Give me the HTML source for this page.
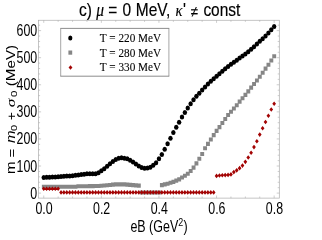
<!DOCTYPE html>
<html><head><meta charset="utf-8"><title>plot</title>
<style>html,body{margin:0;padding:0;background:#fff;overflow:hidden}svg{display:block;will-change:transform;opacity:0.999}text{font-family:"Liberation Sans",sans-serif;fill:#000}.se{font-family:"Liberation Serif",serif}</style></head>
<body>
<svg width="322" height="240" viewBox="0 0 322 240">
<rect x="0" y="0" width="322" height="240" fill="#fff"/>
<rect x="38.5" y="20.25" width="240.80" height="177.85" fill="none" stroke="#acacac" stroke-width="0.7"/>
<path d="M43.75 198.1v-2.6M43.75 20.25v2.6M58.15 198.1v-1.6M58.15 20.25v1.6M72.55 198.1v-1.6M72.55 20.25v1.6M86.95 198.1v-1.6M86.95 20.25v1.6M101.35 198.1v-2.6M101.35 20.25v2.6M115.75 198.1v-1.6M115.75 20.25v1.6M130.15 198.1v-1.6M130.15 20.25v1.6M144.55 198.1v-1.6M144.55 20.25v1.6M158.95 198.1v-2.6M158.95 20.25v2.6M173.35 198.1v-1.6M173.35 20.25v1.6M187.75 198.1v-1.6M187.75 20.25v1.6M202.15 198.1v-1.6M202.15 20.25v1.6M216.55 198.1v-2.6M216.55 20.25v2.6M230.95 198.1v-1.6M230.95 20.25v1.6M245.35 198.1v-1.6M245.35 20.25v1.6M259.75 198.1v-1.6M259.75 20.25v1.6M274.15 198.1v-2.6M274.15 20.25v2.6M38.5 193.10h2.6M279.3 193.10h-2.6M38.5 187.68h1.6M279.3 187.68h-1.6M38.5 182.27h1.6M279.3 182.27h-1.6M38.5 176.85h1.6M279.3 176.85h-1.6M38.5 171.44h1.6M279.3 171.44h-1.6M38.5 166.02h2.6M279.3 166.02h-2.6M38.5 160.60h1.6M279.3 160.60h-1.6M38.5 155.19h1.6M279.3 155.19h-1.6M38.5 149.77h1.6M279.3 149.77h-1.6M38.5 144.36h1.6M279.3 144.36h-1.6M38.5 138.94h2.6M279.3 138.94h-2.6M38.5 133.52h1.6M279.3 133.52h-1.6M38.5 128.11h1.6M279.3 128.11h-1.6M38.5 122.69h1.6M279.3 122.69h-1.6M38.5 117.28h1.6M279.3 117.28h-1.6M38.5 111.86h2.6M279.3 111.86h-2.6M38.5 106.44h1.6M279.3 106.44h-1.6M38.5 101.03h1.6M279.3 101.03h-1.6M38.5 95.61h1.6M279.3 95.61h-1.6M38.5 90.20h1.6M279.3 90.20h-1.6M38.5 84.78h2.6M279.3 84.78h-2.6M38.5 79.36h1.6M279.3 79.36h-1.6M38.5 73.95h1.6M279.3 73.95h-1.6M38.5 68.53h1.6M279.3 68.53h-1.6M38.5 63.12h1.6M279.3 63.12h-1.6M38.5 57.70h2.6M279.3 57.70h-2.6M38.5 52.28h1.6M279.3 52.28h-1.6M38.5 46.87h1.6M279.3 46.87h-1.6M38.5 41.45h1.6M279.3 41.45h-1.6M38.5 36.04h1.6M279.3 36.04h-1.6M38.5 30.62h2.6M279.3 30.62h-2.6M38.5 25.20h1.6M279.3 25.20h-1.6" stroke="#acacac" stroke-width="0.6" fill="none"/>
<path d="M41.85 184.65h3.9v4.1h-3.9zM44.73 184.65h3.9v4.1h-3.9zM47.61 184.65h3.9v4.1h-3.9zM50.49 184.65h3.9v4.1h-3.9zM53.37 184.65h3.9v4.1h-3.9zM56.25 184.65h3.9v4.1h-3.9zM59.13 184.65h3.9v4.1h-3.9zM62.01 184.65h3.9v4.1h-3.9zM64.89 184.65h3.9v4.1h-3.9zM67.77 184.65h3.9v4.1h-3.9zM70.65 184.65h3.9v4.1h-3.9zM73.53 184.65h3.9v4.1h-3.9zM76.41 184.24h3.9v4.1h-3.9zM79.29 184.21h3.9v4.1h-3.9zM82.17 184.17h3.9v4.1h-3.9zM85.05 184.13h3.9v4.1h-3.9zM87.93 184.09h3.9v4.1h-3.9zM90.81 184.05h3.9v4.1h-3.9zM93.69 184.01h3.9v4.1h-3.9zM96.57 183.97h3.9v4.1h-3.9zM99.45 183.70h3.9v4.1h-3.9zM102.33 183.43h3.9v4.1h-3.9zM105.21 183.16h3.9v4.1h-3.9zM108.09 182.89h3.9v4.1h-3.9zM110.97 182.62h3.9v4.1h-3.9zM113.85 182.35h3.9v4.1h-3.9zM116.73 182.35h3.9v4.1h-3.9zM119.61 182.35h3.9v4.1h-3.9zM122.49 182.35h3.9v4.1h-3.9zM125.37 182.59h3.9v4.1h-3.9zM128.25 182.84h3.9v4.1h-3.9zM131.13 183.08h3.9v4.1h-3.9zM134.01 183.32h3.9v4.1h-3.9zM136.89 183.57h3.9v4.1h-3.9zM139.77 190.47h3.9v4.1h-3.9zM142.65 190.47h3.9v4.1h-3.9zM145.53 190.47h3.9v4.1h-3.9zM148.41 190.47h3.9v4.1h-3.9zM151.29 190.47h3.9v4.1h-3.9zM154.17 190.47h3.9v4.1h-3.9zM157.05 190.47h3.9v4.1h-3.9zM159.93 183.03h3.9v4.1h-3.9zM162.81 182.35h3.9v4.1h-3.9zM165.69 181.67h3.9v4.1h-3.9zM168.57 180.72h3.9v4.1h-3.9zM171.45 179.78h3.9v4.1h-3.9zM174.33 178.56h3.9v4.1h-3.9zM177.21 177.34h3.9v4.1h-3.9zM180.09 175.48h3.9v4.1h-3.9zM182.97 173.63h3.9v4.1h-3.9zM185.85 171.65h3.9v4.1h-3.9zM188.73 168.94h3.9v4.1h-3.9zM191.61 165.56h3.9v4.1h-3.9zM194.49 161.36h3.9v4.1h-3.9zM197.37 156.76h3.9v4.1h-3.9zM200.25 151.88h3.9v4.1h-3.9zM203.13 146.20h3.9v4.1h-3.9zM206.01 141.86h3.9v4.1h-3.9zM208.89 137.40h3.9v4.1h-3.9zM211.77 133.06h3.9v4.1h-3.9zM214.65 128.87h3.9v4.1h-3.9zM217.53 125.07h3.9v4.1h-3.9zM220.41 121.01h3.9v4.1h-3.9zM223.29 116.95h3.9v4.1h-3.9zM226.17 112.89h3.9v4.1h-3.9zM229.05 109.64h3.9v4.1h-3.9zM231.93 106.52h3.9v4.1h-3.9zM234.81 103.14h3.9v4.1h-3.9zM237.69 99.62h3.9v4.1h-3.9zM240.57 96.23h3.9v4.1h-3.9zM243.45 92.85h3.9v4.1h-3.9zM246.33 89.33h3.9v4.1h-3.9zM249.21 85.54h3.9v4.1h-3.9zM252.09 82.02h3.9v4.1h-3.9zM254.97 78.50h3.9v4.1h-3.9zM257.85 74.71h3.9v4.1h-3.9zM260.73 70.64h3.9v4.1h-3.9zM263.61 66.58h3.9v4.1h-3.9zM266.49 62.66h3.9v4.1h-3.9zM269.37 58.46h3.9v4.1h-3.9zM272.25 54.26h3.9v4.1h-3.9z" fill="#868686"/>
<path d="M43.75 186.42l1.85 2.35l-1.85 2.35l-1.85 -2.35zM46.63 186.42l1.85 2.35l-1.85 2.35l-1.85 -2.35zM49.51 186.42l1.85 2.35l-1.85 2.35l-1.85 -2.35zM52.39 186.42l1.85 2.35l-1.85 2.35l-1.85 -2.35zM55.27 186.42l1.85 2.35l-1.85 2.35l-1.85 -2.35zM58.15 186.42l1.85 2.35l-1.85 2.35l-1.85 -2.35zM61.03 190.07l1.85 2.35l-1.85 2.35l-1.85 -2.35zM63.91 190.07l1.85 2.35l-1.85 2.35l-1.85 -2.35zM66.79 190.07l1.85 2.35l-1.85 2.35l-1.85 -2.35zM69.67 190.07l1.85 2.35l-1.85 2.35l-1.85 -2.35zM72.55 190.07l1.85 2.35l-1.85 2.35l-1.85 -2.35zM75.43 190.07l1.85 2.35l-1.85 2.35l-1.85 -2.35zM78.31 190.07l1.85 2.35l-1.85 2.35l-1.85 -2.35zM81.19 190.07l1.85 2.35l-1.85 2.35l-1.85 -2.35zM84.07 190.07l1.85 2.35l-1.85 2.35l-1.85 -2.35zM86.95 190.07l1.85 2.35l-1.85 2.35l-1.85 -2.35zM89.83 190.07l1.85 2.35l-1.85 2.35l-1.85 -2.35zM92.71 190.07l1.85 2.35l-1.85 2.35l-1.85 -2.35zM95.59 190.07l1.85 2.35l-1.85 2.35l-1.85 -2.35zM98.47 190.07l1.85 2.35l-1.85 2.35l-1.85 -2.35zM101.35 190.07l1.85 2.35l-1.85 2.35l-1.85 -2.35zM104.23 190.07l1.85 2.35l-1.85 2.35l-1.85 -2.35zM107.11 190.07l1.85 2.35l-1.85 2.35l-1.85 -2.35zM109.99 190.07l1.85 2.35l-1.85 2.35l-1.85 -2.35zM112.87 190.07l1.85 2.35l-1.85 2.35l-1.85 -2.35zM115.75 190.07l1.85 2.35l-1.85 2.35l-1.85 -2.35zM118.63 190.07l1.85 2.35l-1.85 2.35l-1.85 -2.35zM121.51 190.07l1.85 2.35l-1.85 2.35l-1.85 -2.35zM124.39 190.07l1.85 2.35l-1.85 2.35l-1.85 -2.35zM127.27 190.07l1.85 2.35l-1.85 2.35l-1.85 -2.35zM130.15 190.07l1.85 2.35l-1.85 2.35l-1.85 -2.35zM133.03 190.07l1.85 2.35l-1.85 2.35l-1.85 -2.35zM135.91 190.07l1.85 2.35l-1.85 2.35l-1.85 -2.35zM138.79 190.07l1.85 2.35l-1.85 2.35l-1.85 -2.35zM141.67 190.07l1.85 2.35l-1.85 2.35l-1.85 -2.35zM144.55 190.07l1.85 2.35l-1.85 2.35l-1.85 -2.35zM147.43 190.07l1.85 2.35l-1.85 2.35l-1.85 -2.35zM150.31 190.07l1.85 2.35l-1.85 2.35l-1.85 -2.35zM153.19 190.07l1.85 2.35l-1.85 2.35l-1.85 -2.35zM156.07 190.07l1.85 2.35l-1.85 2.35l-1.85 -2.35zM158.95 190.07l1.85 2.35l-1.85 2.35l-1.85 -2.35zM161.83 190.07l1.85 2.35l-1.85 2.35l-1.85 -2.35zM164.71 190.07l1.85 2.35l-1.85 2.35l-1.85 -2.35zM167.59 190.07l1.85 2.35l-1.85 2.35l-1.85 -2.35zM170.47 190.07l1.85 2.35l-1.85 2.35l-1.85 -2.35zM173.35 190.07l1.85 2.35l-1.85 2.35l-1.85 -2.35zM176.23 190.07l1.85 2.35l-1.85 2.35l-1.85 -2.35zM179.11 190.07l1.85 2.35l-1.85 2.35l-1.85 -2.35zM181.99 190.07l1.85 2.35l-1.85 2.35l-1.85 -2.35zM184.87 190.07l1.85 2.35l-1.85 2.35l-1.85 -2.35zM187.75 190.07l1.85 2.35l-1.85 2.35l-1.85 -2.35zM190.63 190.07l1.85 2.35l-1.85 2.35l-1.85 -2.35zM193.51 190.07l1.85 2.35l-1.85 2.35l-1.85 -2.35zM196.39 190.07l1.85 2.35l-1.85 2.35l-1.85 -2.35zM199.27 190.07l1.85 2.35l-1.85 2.35l-1.85 -2.35zM202.15 190.07l1.85 2.35l-1.85 2.35l-1.85 -2.35zM205.03 190.07l1.85 2.35l-1.85 2.35l-1.85 -2.35zM207.91 190.07l1.85 2.35l-1.85 2.35l-1.85 -2.35zM210.79 190.07l1.85 2.35l-1.85 2.35l-1.85 -2.35zM213.67 190.07l1.85 2.35l-1.85 2.35l-1.85 -2.35zM216.55 173.55l1.85 2.35l-1.85 2.35l-1.85 -2.35zM219.43 173.15l1.85 2.35l-1.85 2.35l-1.85 -2.35zM222.31 172.88l1.85 2.35l-1.85 2.35l-1.85 -2.35zM225.19 172.74l1.85 2.35l-1.85 2.35l-1.85 -2.35zM228.07 172.61l1.85 2.35l-1.85 2.35l-1.85 -2.35zM230.95 172.06l1.85 2.35l-1.85 2.35l-1.85 -2.35zM233.83 169.76l1.85 2.35l-1.85 2.35l-1.85 -2.35zM236.71 168.00l1.85 2.35l-1.85 2.35l-1.85 -2.35zM239.59 165.84l1.85 2.35l-1.85 2.35l-1.85 -2.35zM242.47 163.26l1.85 2.35l-1.85 2.35l-1.85 -2.35zM245.35 159.47l1.85 2.35l-1.85 2.35l-1.85 -2.35zM248.23 155.14l1.85 2.35l-1.85 2.35l-1.85 -2.35zM251.11 150.40l1.85 2.35l-1.85 2.35l-1.85 -2.35zM253.99 144.71l1.85 2.35l-1.85 2.35l-1.85 -2.35zM256.87 138.89l1.85 2.35l-1.85 2.35l-1.85 -2.35zM259.75 132.26l1.85 2.35l-1.85 2.35l-1.85 -2.35zM262.63 125.89l1.85 2.35l-1.85 2.35l-1.85 -2.35zM265.51 119.67l1.85 2.35l-1.85 2.35l-1.85 -2.35zM268.39 113.41l1.85 2.35l-1.85 2.35l-1.85 -2.35zM271.27 107.15l1.85 2.35l-1.85 2.35l-1.85 -2.35zM274.15 101.39l1.85 2.35l-1.85 2.35l-1.85 -2.35z" fill="#a30404"/>
<g fill="#000"><ellipse cx="43.75" cy="177.39" rx="2.2" ry="2.5"/><ellipse cx="46.63" cy="177.29" rx="2.2" ry="2.5"/><ellipse cx="49.51" cy="177.18" rx="2.2" ry="2.5"/><ellipse cx="52.39" cy="177.07" rx="2.2" ry="2.5"/><ellipse cx="55.27" cy="176.96" rx="2.2" ry="2.5"/><ellipse cx="58.15" cy="176.85" rx="2.2" ry="2.5"/><ellipse cx="61.03" cy="176.61" rx="2.2" ry="2.5"/><ellipse cx="63.91" cy="176.36" rx="2.2" ry="2.5"/><ellipse cx="66.79" cy="176.12" rx="2.2" ry="2.5"/><ellipse cx="69.67" cy="175.88" rx="2.2" ry="2.5"/><ellipse cx="72.55" cy="175.63" rx="2.2" ry="2.5"/><ellipse cx="75.43" cy="175.27" rx="2.2" ry="2.5"/><ellipse cx="78.31" cy="174.91" rx="2.2" ry="2.5"/><ellipse cx="81.19" cy="174.55" rx="2.2" ry="2.5"/><ellipse cx="84.07" cy="174.14" rx="2.2" ry="2.5"/><ellipse cx="86.95" cy="173.74" rx="2.2" ry="2.5"/><ellipse cx="89.83" cy="173.81" rx="2.2" ry="2.5"/><ellipse cx="92.71" cy="173.87" rx="2.2" ry="2.5"/><ellipse cx="95.59" cy="173.81" rx="2.2" ry="2.5"/><ellipse cx="98.47" cy="172.79" rx="2.2" ry="2.5"/><ellipse cx="101.35" cy="170.87" rx="2.2" ry="2.5"/><ellipse cx="104.23" cy="168.65" rx="2.2" ry="2.5"/><ellipse cx="107.11" cy="166.28" rx="2.2" ry="2.5"/><ellipse cx="109.99" cy="163.85" rx="2.2" ry="2.5"/><ellipse cx="112.87" cy="161.51" rx="2.2" ry="2.5"/><ellipse cx="115.75" cy="159.61" rx="2.2" ry="2.5"/><ellipse cx="118.63" cy="158.17" rx="2.2" ry="2.5"/><ellipse cx="121.51" cy="157.86" rx="2.2" ry="2.5"/><ellipse cx="124.39" cy="158.14" rx="2.2" ry="2.5"/><ellipse cx="127.27" cy="158.71" rx="2.2" ry="2.5"/><ellipse cx="130.15" cy="160.32" rx="2.2" ry="2.5"/><ellipse cx="133.03" cy="162.09" rx="2.2" ry="2.5"/><ellipse cx="135.91" cy="164.12" rx="2.2" ry="2.5"/><ellipse cx="138.79" cy="165.99" rx="2.2" ry="2.5"/><ellipse cx="141.67" cy="167.46" rx="2.2" ry="2.5"/><ellipse cx="144.55" cy="168.35" rx="2.2" ry="2.5"/><ellipse cx="147.43" cy="168.05" rx="2.2" ry="2.5"/><ellipse cx="150.31" cy="167.18" rx="2.2" ry="2.5"/><ellipse cx="153.19" cy="165.22" rx="2.2" ry="2.5"/><ellipse cx="156.07" cy="162.67" rx="2.2" ry="2.5"/><ellipse cx="158.95" cy="158.68" rx="2.2" ry="2.5"/><ellipse cx="161.83" cy="154.38" rx="2.2" ry="2.5"/><ellipse cx="164.71" cy="149.23" rx="2.2" ry="2.5"/><ellipse cx="167.59" cy="143.81" rx="2.2" ry="2.5"/><ellipse cx="170.47" cy="138.13" rx="2.2" ry="2.5"/><ellipse cx="173.35" cy="132.44" rx="2.2" ry="2.5"/><ellipse cx="176.23" cy="127.30" rx="2.2" ry="2.5"/><ellipse cx="179.11" cy="122.15" rx="2.2" ry="2.5"/><ellipse cx="181.99" cy="117.01" rx="2.2" ry="2.5"/><ellipse cx="184.87" cy="112.40" rx="2.2" ry="2.5"/><ellipse cx="187.75" cy="108.07" rx="2.2" ry="2.5"/><ellipse cx="190.63" cy="103.74" rx="2.2" ry="2.5"/><ellipse cx="193.51" cy="99.67" rx="2.2" ry="2.5"/><ellipse cx="196.39" cy="96.15" rx="2.2" ry="2.5"/><ellipse cx="199.27" cy="93.13" rx="2.2" ry="2.5"/><ellipse cx="202.15" cy="90.11" rx="2.2" ry="2.5"/><ellipse cx="205.03" cy="87.08" rx="2.2" ry="2.5"/><ellipse cx="207.91" cy="84.06" rx="2.2" ry="2.5"/><ellipse cx="210.79" cy="81.37" rx="2.2" ry="2.5"/><ellipse cx="213.67" cy="78.82" rx="2.2" ry="2.5"/><ellipse cx="216.55" cy="76.27" rx="2.2" ry="2.5"/><ellipse cx="219.43" cy="73.71" rx="2.2" ry="2.5"/><ellipse cx="222.31" cy="71.16" rx="2.2" ry="2.5"/><ellipse cx="225.19" cy="68.75" rx="2.2" ry="2.5"/><ellipse cx="228.07" cy="66.47" rx="2.2" ry="2.5"/><ellipse cx="230.95" cy="64.20" rx="2.2" ry="2.5"/><ellipse cx="233.83" cy="62.17" rx="2.2" ry="2.5"/><ellipse cx="236.71" cy="60.14" rx="2.2" ry="2.5"/><ellipse cx="239.59" cy="58.11" rx="2.2" ry="2.5"/><ellipse cx="242.47" cy="56.08" rx="2.2" ry="2.5"/><ellipse cx="245.35" cy="53.91" rx="2.2" ry="2.5"/><ellipse cx="248.23" cy="51.74" rx="2.2" ry="2.5"/><ellipse cx="251.11" cy="49.31" rx="2.2" ry="2.5"/><ellipse cx="253.99" cy="46.87" rx="2.2" ry="2.5"/><ellipse cx="256.87" cy="43.89" rx="2.2" ry="2.5"/><ellipse cx="259.75" cy="41.18" rx="2.2" ry="2.5"/><ellipse cx="262.63" cy="38.74" rx="2.2" ry="2.5"/><ellipse cx="265.51" cy="36.04" rx="2.2" ry="2.5"/><ellipse cx="268.39" cy="33.06" rx="2.2" ry="2.5"/><ellipse cx="271.27" cy="29.81" rx="2.2" ry="2.5"/><ellipse cx="274.15" cy="26.56" rx="2.2" ry="2.5"/></g>
<rect x="60.7" y="28.4" width="108.2" height="47.8" fill="#fff"/>
<path d="M60.35 28.4H169.25M60.35 76.2H169.25" stroke="#707070" stroke-width="0.8" fill="none"/>
<path d="M60.7 28.4V76.2M168.9 28.4V76.2" stroke="#808080" stroke-width="0.7" fill="none"/>
<ellipse cx="70.3" cy="37.9" rx="2.1" ry="2.5" fill="#000"/>
<rect x="68.4" y="50.5" width="3.8" height="4.2" fill="#868686"/>
<path d="M70.5 65.25l1.95 2.25l-1.95 2.25l-1.95 -2.25z" fill="#a30404"/>
<text class="se" transform="translate(99.8,41.9) scale(0.838,1)" font-size="13.4" stroke="#000" stroke-width="0.1">T = 220 MeV</text>
<text class="se" transform="translate(99.8,56.5) scale(0.838,1)" font-size="13.4" stroke="#000" stroke-width="0.1">T = 280 MeV</text>
<text class="se" transform="translate(99.8,71.0) scale(0.838,1)" font-size="13.4" stroke="#000" stroke-width="0.1">T = 330 MeV</text>
<text transform="translate(79.1,16.4) scale(0.85,1)" font-size="18.2" stroke="#000" stroke-width="0.18">c) <tspan class="se" font-style="italic">μ</tspan> = <tspan dx="1.1">0</tspan> <tspan dx="0.3">MeV,</tspan> <tspan class="se" font-style="italic" font-size="17" dx="0.9">κ</tspan><tspan dx="0.6">'</tspan> <tspan dx="0.6" dy="0.9" font-size="15.5">≠</tspan><tspan dy="-0.9" dx="1.35"> const</tspan></text>
<text transform="translate(37.2,198.60) scale(0.795,1)" font-size="15.6" text-anchor="end">0</text>
<text transform="translate(37.2,171.52) scale(0.795,1)" font-size="15.6" text-anchor="end">100</text>
<text transform="translate(37.2,144.44) scale(0.795,1)" font-size="15.6" text-anchor="end">200</text>
<text transform="translate(37.2,117.36) scale(0.795,1)" font-size="15.6" text-anchor="end">300</text>
<text transform="translate(37.2,90.28) scale(0.795,1)" font-size="15.6" text-anchor="end">400</text>
<text transform="translate(37.2,63.20) scale(0.795,1)" font-size="15.6" text-anchor="end">500</text>
<text transform="translate(37.2,36.12) scale(0.795,1)" font-size="15.6" text-anchor="end">600</text>
<text transform="translate(44.05,213.9) scale(0.795,1)" font-size="15.6" text-anchor="middle">0.0</text>
<text transform="translate(101.65,213.9) scale(0.795,1)" font-size="15.6" text-anchor="middle">0.2</text>
<text transform="translate(159.25,213.9) scale(0.795,1)" font-size="15.6" text-anchor="middle">0.4</text>
<text transform="translate(216.85,213.9) scale(0.795,1)" font-size="15.6" text-anchor="middle">0.6</text>
<text transform="translate(274.45,213.9) scale(0.795,1)" font-size="15.6" text-anchor="middle">0.8</text>
<text transform="translate(130.4,232.3) scale(0.79,1)" font-size="15.8">eB (GeV<tspan dy="-6.5" font-size="11.3">2</tspan><tspan dy="6.5" dx="0.5">)</tspan></text>
<g transform="translate(14.8,174.1) scale(0.85,1) rotate(-90)"><text transform="translate(0,0) scale(1,1)" font-size="15">m</text><text transform="translate(16.6,1.2) scale(1,1)" font-size="15">=</text><text transform="translate(31.1,0) scale(1,1)" font-size="15" font-style="italic">m</text><text transform="translate(43,2) scale(1,1)" font-size="11">0</text><text transform="translate(53.8,1.0) scale(1,1)" font-size="14">+</text><text transform="translate(66.9,0) scale(1,0.84)" font-size="17.6" class="se" font-style="italic">σ</text><text transform="translate(77.2,2) scale(1,1)" font-size="11.5">0</text><text transform="translate(87.9,0) scale(1,1)" font-size="15.2">(MeV)</text></g>
</svg></body></html>
